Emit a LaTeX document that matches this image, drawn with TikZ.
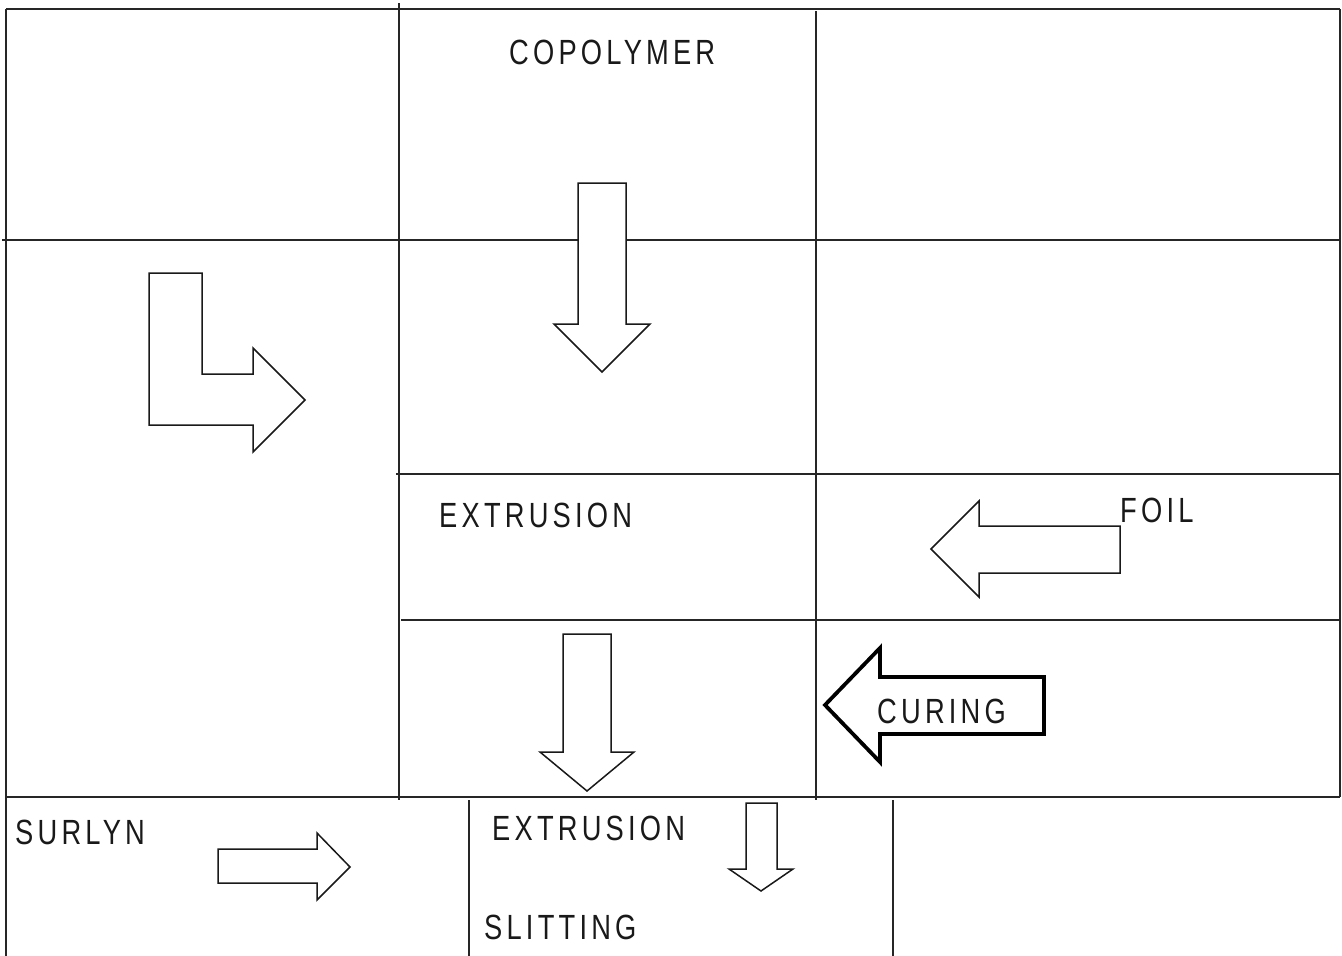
\documentclass[tikz,border=0pt]{standalone}
\usepackage{fontspec}
\newfontfamily\labfont[FakeStretch=0.78,LetterSpace=12]{Liberation Sans}
\begin{document}
\begin{tikzpicture}[x=1pt,y=-1pt,
  grid/.style={line width=1.2pt,black!85},
  blockarrow/.style={draw=black!90,line width=1.5pt,fill=white,line join=miter},
  heavyarrow/.style={draw=black,line width=3.8pt,fill=white,line join=miter},
  lab/.style={inner sep=0pt,anchor=base west,font=\labfont\fontsize{35}{35}\selectfont,text=black!90}]
\useasboundingbox (0,0) rectangle (1342,956);

% table rules
\draw[grid] (6,9) -- (1340,9);
\draw[grid] (6,9) -- (6,956);
\draw[grid] (1340,9) -- (1340,797);
\draw[grid] (2,240) -- (1340,240);
\draw[grid] (396,474) -- (1340,474);
\draw[grid] (401,620) -- (1340,620);
\draw[grid] (6,797) -- (1340,797);
\draw[grid] (399,3) -- (399,800);
\draw[grid] (816,11) -- (816,800);
\draw[grid] (469,800) -- (469,956);
\draw[grid] (893,800) -- (893,956);

% block arrows
\draw[blockarrow] (578,183) -- (626,183) -- (626,324) -- (650,324) -- (602,372)
  -- (554,324) -- (578,324) -- cycle;
\draw[blockarrow] (149,273) -- (202,273) -- (202,374) -- (253,374) -- (253,348)
  -- (305,400) -- (253,452) -- (253,425) -- (149,425) -- cycle;
\draw[blockarrow] (1120,526) -- (979,526) -- (979,501) -- (931,549) -- (979,597)
  -- (979,573) -- (1120,573) -- cycle;
\draw[heavyarrow] (1044,677) -- (880,677) -- (880,648) -- (825,705) -- (880,762)
  -- (880,734) -- (1044,734) -- cycle;
\draw[blockarrow] (563,634) -- (611,634) -- (611,752) -- (634,752) -- (587,791)
  -- (540,752) -- (563,752) -- cycle;
\draw[blockarrow] (746,803) -- (777,803) -- (777,869) -- (793,869) -- (761,891)
  -- (729,869) -- (746,869) -- cycle;
\draw[blockarrow] (218,849) -- (317,849) -- (317,833) -- (350,867) -- (317,900)
  -- (317,883) -- (218,883) -- cycle;

% labels (set after the arrows so the filled shapes stay behind them)
\node[lab] (copolymer) at (509,64) {COPOLYMER};
\node[lab] (extrusionA) at (439,527) {EXTRUSION};
\node[lab] (foil) at (1120,522) {FOIL};
\node[lab] (curing) at (877,723) {CURING};
\node[lab] (surlyn) at (15,844) {SURLYN};
\node[lab] (extrusionB) at (492,840) {EXTRUSION};
\node[lab] (slitting) at (484,939) {SLITTING};
\end{tikzpicture}
\end{document}
